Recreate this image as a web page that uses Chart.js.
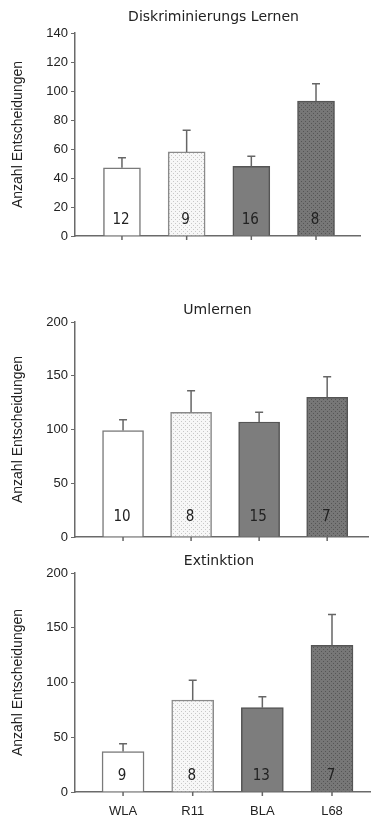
<!DOCTYPE html>
<html lang="de">
<head>
<meta charset="UTF-8">
<title>Anzahl Entscheidungen</title>
<script src="https://cdn.jsdelivr.net/npm/chart.js"></script>
<style>
    html, body { margin: 0; padding: 0; background: #fff; }
    body { width: 371px; height: 818px; position: relative; overflow: hidden; }
    .panel { position: absolute; left: 0; width: 371px; }
    #p1 { top: 0; height: 250px; }
    #p2 { top: 280px; height: 270px; }
    #p3 { top: 550px; height: 268px; }
</style>
</head>
<body>
<div class="panel" id="p1"><canvas id="chart1"></canvas></div>
<div class="panel" id="p2"><canvas id="chart2"></canvas></div>
<div class="panel" id="p3"><canvas id="chart3"></canvas></div>

<script>
    const groups = ['WLA', 'R11', 'BLA', 'L68'];

    const lernenMean = [47, 58, 48, 93];
    const lernenErr = [7, 15, 7, 12];
    const lernenN = [12, 9, 16, 8];

    const umlernenMean = [99, 116, 107, 130];
    const umlernenErr = [10, 20, 9, 19];
    const umlernenN = [10, 8, 15, 7];

    const extinktionMean = [37, 84, 77, 134];
    const extinktionErr = [7, 18, 10, 28];
    const extinktionN = [9, 8, 13, 7];

    const AXIS = '#6a6a6a';
    const TEXT = '#222';

    function dotPattern(base, dot) {
        const c = document.createElement('canvas');
        c.width = 4; c.height = 4;
        const g = c.getContext('2d');
        g.fillStyle = base;
        g.fillRect(0, 0, 4, 4);
        g.fillStyle = dot;
        g.fillRect(1, 1, 1, 1);
        g.fillRect(3, 3, 1, 1);
        return g.createPattern(c, 'repeat');
    }

    const fills = [
        '#ffffff',
        dotPattern('#f7f7f7', '#c8c8c8'),
        '#7d7d7d',
        dotPattern('#777777', '#555555')
    ];
    const borders = ['#7a7a7a', '#8a8a8a', '#555555', '#555555'];

    // error whiskers (upward only), x tick marks, group sizes and panel title
    const extras = {
        id: 'extras',
        afterDatasetsDraw(chart, args, opts) {
            const ctx = chart.ctx;
            const ys = chart.scales.y;
            const meta = chart.getDatasetMeta(0);
            const y0 = ys.getPixelForValue(0);
            ctx.save();
            ctx.strokeStyle = '#666';
            ctx.lineWidth = 1.5;
            opts.mean.forEach((m, i) => {
                const x = meta.data[i].x;
                const yTop = ys.getPixelForValue(m);
                const yErr = ys.getPixelForValue(m + opts.err[i]);
                ctx.beginPath();
                ctx.moveTo(x, yTop);
                ctx.lineTo(x, yErr);
                ctx.moveTo(x - 4, yErr);
                ctx.lineTo(x + 4, yErr);
                ctx.moveTo(x, y0);
                ctx.lineTo(x, y0 + 4);
                ctx.stroke();
            });
            ctx.fillStyle = TEXT;
            ctx.font = '15px "DejaVu Sans Condensed", "DejaVu Sans", sans-serif';
            ctx.textAlign = 'center';
            ctx.textBaseline = 'middle';
            opts.n.forEach((n, i) => {
                ctx.fillText(String(n), meta.data[i].x - 1, y0 - opts.nOffset);
            });
            ctx.font = '14px "DejaVu Sans", sans-serif';
            const area = chart.chartArea;
            ctx.fillText(opts.title, (area.left + area.right) / 2 - 4, opts.titleY);
            ctx.restore();
        }
    };

    function makeChart(id, cfg) {
        const pts = cfg.mean.map((v, i) => ({ x: i + 1, y: v }));
        return new Chart(document.getElementById(id), {
            type: 'bar',
            data: {
                datasets: [{
                    data: pts,
                    backgroundColor: fills,
                    borderColor: borders,
                    borderWidth: 1.5,
                    barThickness: cfg.barWidth
                }]
            },
            plugins: [extras],
            options: {
                responsive: true,
                maintainAspectRatio: false,
                animation: false,
                layout: { padding: { top: cfg.top, right: cfg.right, left: 0, bottom: 0 } },
                plugins: {
                    legend: { display: false },
                    tooltip: { enabled: false },
                    extras: { mean: cfg.mean, err: cfg.err, n: cfg.n, title: cfg.title, titleY: cfg.titleY, nOffset: cfg.nOffset }
                },
                scales: {
                    x: {
                        type: 'linear',
                        offset: false,
                        min: cfg.xMin,
                        max: cfg.xMax,
                        afterBuildTicks(scale) {
                            scale.ticks = groups.map((g, i) => ({ value: i + 1 }));
                        },
                        afterFit(scale) { scale.height = cfg.xHeight; },
                        grid: { display: false, offset: false },
                        border: { display: true, color: AXIS, width: 1.5 },
                        ticks: {
                            display: cfg.showLabels,
                            padding: 4,
                            color: TEXT,
                            font: { family: 'Liberation Sans', size: 13 },
                            callback: v => groups[v - 1] || ''
                        }
                    },
                    y: {
                        min: 0,
                        max: cfg.yMax,
                        afterFit(scale) { scale.width = 75; },
                        grid: { drawOnChartArea: false, tickLength: 4, color: AXIS, lineWidth: 1 },
                        border: { color: AXIS, width: 1.5 },
                        ticks: {
                            stepSize: cfg.step,
                            padding: 3,
                            color: TEXT,
                            font: { family: 'Liberation Sans', size: 13 }
                        },
                        title: {
                            display: true,
                            text: 'Anzahl Entscheidungen',
                            color: TEXT,
                            padding: { top: 10, bottom: 0 },
                            font: { family: 'Liberation Sans', size: 14 }
                        }
                    }
                }
            }
        });
    }

    makeChart('chart1', {
        mean: lernenMean, err: lernenErr, n: lernenN, title: 'Diskriminierungs Lernen',
        yMax: 140, step: 20, top: 33, right: 11, xMin: 0.274, xMax: 4.68,
        xHeight: 14, showLabels: false, barWidth: 37, titleY: 17, nOffset: 16
    });

    makeChart('chart2', {
        mean: umlernenMean, err: umlernenErr, n: umlernenN, title: 'Umlernen',
        yMax: 200, step: 50, top: 42, right: 3, xMin: 0.294, xMax: 4.6,
        xHeight: 13, showLabels: false, barWidth: 41, titleY: 30, nOffset: 20
    });

    makeChart('chart3', {
        mean: extinktionMean, err: extinktionErr, n: extinktionN, title: 'Extinktion',
        yMax: 200, step: 50, top: 23, right: 0, xMin: 0.31, xMax: 4.56,
        xHeight: 26, showLabels: true, barWidth: 42, titleY: 11, nOffset: 16
    });
</script>
</body>
</html>
